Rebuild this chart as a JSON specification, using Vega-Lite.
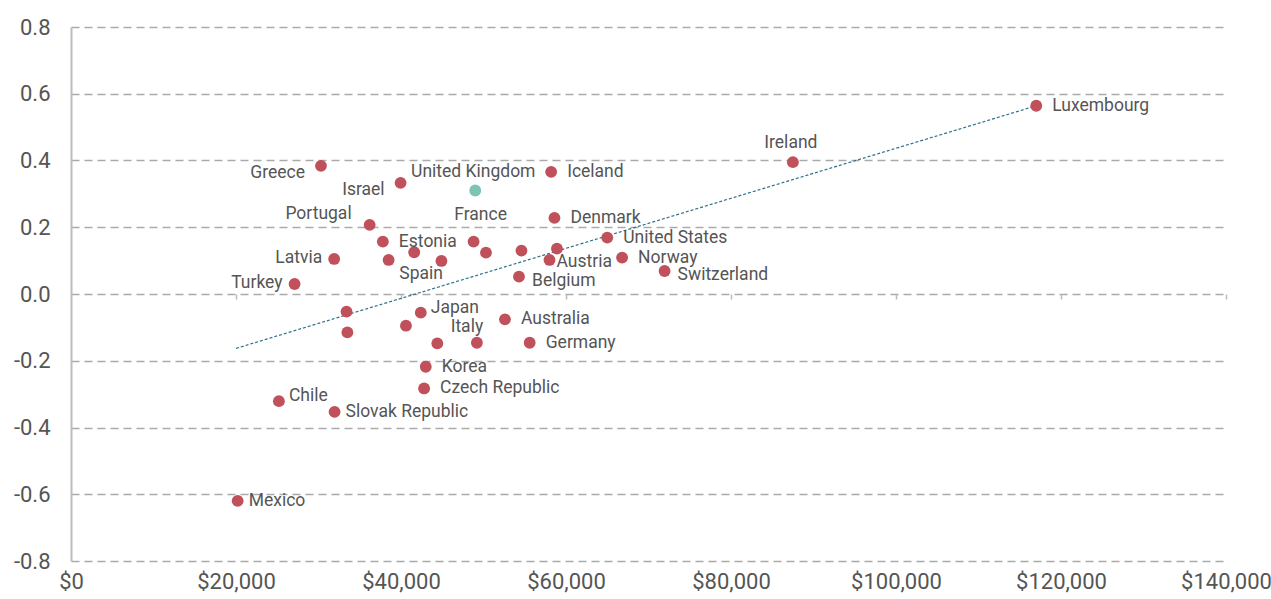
{
  "$schema": "https://vega.github.io/schema/vega-lite/v6.json",
  "width": 1155,
  "height": 534,
  "autosize": {"type": "none"},
  "padding": {"left": 71, "top": 27, "right": 45, "bottom": 38},
  "background": "white",
  "config": {
    "view": {"stroke": null},
    "font": "Roboto",
    "axis": {"labelFont": "Roboto", "labelColor": "#555555", "labelFontSize": 22}
  },
  "datasets": {
    "points": [
      {"country": "Luxembourg", "gdp": 117000, "value": 0.564, "labelPos": "right", "group": "other"},
      {"country": "Ireland", "gdp": 87500, "value": 0.395, "labelPos": "above", "group": "other"},
      {"country": "Greece", "gdp": 30300, "value": 0.384, "labelPos": "leftBelow", "group": "other"},
      {"country": "Israel", "gdp": 39950, "value": 0.333, "labelPos": "leftBelow", "group": "other"},
      {"country": "United Kingdom", "gdp": 49000, "value": 0.310, "labelPos": "above", "group": "uk"},
      {"country": "Iceland", "gdp": 58200, "value": 0.366, "labelPos": "right", "group": "other"},
      {"country": "Portugal", "gdp": 36200, "value": 0.207, "labelPos": "leftAbove", "group": "other"},
      {"country": "Denmark", "gdp": 58600, "value": 0.228, "labelPos": "right", "group": "other"},
      {"country": "Estonia", "gdp": 37800, "value": 0.157, "labelPos": "right", "group": "other"},
      {"country": "France", "gdp": 48800, "value": 0.157, "labelPos": "aboveFar", "group": "other"},
      {"country": "Canada", "gdp": 50300, "value": 0.124, "labelPos": "none", "group": "other"},
      {"country": "Sweden", "gdp": 54600, "value": 0.130, "labelPos": "none", "group": "other"},
      {"country": "Netherlands", "gdp": 58900, "value": 0.136, "labelPos": "none", "group": "other"},
      {"country": "Austria", "gdp": 58000, "value": 0.102, "labelPos": "rightBelow", "group": "other"},
      {"country": "Belgium", "gdp": 54300, "value": 0.052, "labelPos": "rightLow", "group": "other"},
      {"country": "United States", "gdp": 65000, "value": 0.169, "labelPos": "right", "group": "other"},
      {"country": "Norway", "gdp": 66800, "value": 0.109, "labelPos": "right", "group": "other"},
      {"country": "Switzerland", "gdp": 71950, "value": 0.069, "labelPos": "rightLow", "group": "other"},
      {"country": "Latvia", "gdp": 31900, "value": 0.105, "labelPos": "left", "group": "other"},
      {"country": "Lithuania", "gdp": 38500, "value": 0.102, "labelPos": "none", "group": "other"},
      {"country": "Spain", "gdp": 41600, "value": 0.125, "labelPos": "below", "group": "other"},
      {"country": "New Zealand", "gdp": 44900, "value": 0.099, "labelPos": "none", "group": "other"},
      {"country": "Turkey", "gdp": 27100, "value": 0.030, "labelPos": "left", "group": "other"},
      {"country": "Poland", "gdp": 33400, "value": -0.053, "labelPos": "none", "group": "other"},
      {"country": "Hungary", "gdp": 33500, "value": -0.115, "labelPos": "none", "group": "other"},
      {"country": "Slovenia", "gdp": 40600, "value": -0.095, "labelPos": "none", "group": "other"},
      {"country": "Japan", "gdp": 42400, "value": -0.056, "labelPos": "rightAbove", "group": "other"},
      {"country": "Australia", "gdp": 52600, "value": -0.076, "labelPos": "right", "group": "other"},
      {"country": "Finland", "gdp": 44400, "value": -0.148, "labelPos": "none", "group": "other"},
      {"country": "Italy", "gdp": 49200, "value": -0.146, "labelPos": "aboveLeft", "group": "other"},
      {"country": "Germany", "gdp": 55600, "value": -0.146, "labelPos": "right", "group": "other"},
      {"country": "Korea", "gdp": 43000, "value": -0.218, "labelPos": "right", "group": "other"},
      {"country": "Czech Republic", "gdp": 42800, "value": -0.283, "labelPos": "right", "group": "other"},
      {"country": "Chile", "gdp": 25200, "value": -0.321, "labelPos": "rightAbove", "group": "other"},
      {"country": "Slovak Republic", "gdp": 31950, "value": -0.353, "labelPos": "rightNear", "group": "other"},
      {"country": "Mexico", "gdp": 20200, "value": -0.620, "labelPos": "rightNear", "group": "other"}
    ],
    "trend": [
      {"gdp": 20000, "value": -0.163},
      {"gdp": 117000, "value": 0.564}
    ]
  },
  "resolve": {"axis": {"x": "independent"}},
  "layer": [
    {
      "data": {"name": "trend"},
      "mark": {"type": "rule", "color": "#bbbbbb", "strokeWidth": 2},
      "encoding": {
        "y": {"datum": 0, "type": "quantitative"},
        "x": {
          "field": "gdp", "type": "quantitative",
          "scale": {"domain": [0, 140000], "nice": false},
          "axis": {"orient": "bottom", "offset": -267, "domain": false, "ticks": true, "tickSize": 5, "tickWidth": 1.5, "tickColor": "#bbbbbb", "labels": false, "grid": false, "title": null, "values": [20000, 40000, 60000, 80000, 100000, 120000, 140000]}
        }
      }
    },
    {
      "data": {"name": "trend"},
      "mark": {"type": "line", "color": "#2f6f8c", "strokeWidth": 1.2, "strokeDash": [3, 2]},
      "encoding": {
        "x": {
          "field": "gdp", "type": "quantitative",
          "scale": {"domain": [0, 140000], "nice": false},
          "axis": {"orient": "bottom", "domain": false, "ticks": false, "grid": false, "title": null, "labelFlush": false, "labelBound": false, "labelOverlap": false, "labelPadding": 10, "labelFontSize": 22, "labelFont": "Roboto", "labelColor": "#555555", "format": "$,.0f", "values": [0, 20000, 40000, 60000, 80000, 100000, 120000, 140000]}
        },
        "y": {
          "field": "value", "type": "quantitative",
          "scale": {"domain": [-0.8, 0.8], "nice": false},
          "axis": {"title": null, "values": [-0.8, -0.6, -0.4, -0.2, 0, 0.2, 0.4, 0.6, 0.8], "labelExpr": "replace(format(datum.value, '.1f'), '\u2212', '-')", "labelFlush": false, "labelOverlap": false, "labelPadding": 21, "labelFontSize": 22, "labelFont": "Roboto", "labelColor": "#555555", "ticks": false, "domain": true, "domainColor": "#bbbbbb", "domainWidth": 2, "grid": true, "gridColor": "#aaaaaa", "gridWidth": 1.5, "gridDash": [8, 5]}
        }
      }
    },
    {
      "data": {"name": "points"},
      "mark": {"type": "circle", "opacity": 1, "size": 140},
      "encoding": {
        "x": {"field": "gdp", "type": "quantitative", "axis": null},
        "y": {"field": "value", "type": "quantitative"},
        "color": {"field": "group", "type": "nominal", "scale": {"domain": ["other", "uk"], "range": ["#c0505a", "#7cc4b4"]}, "legend": null}
      }
    },
    {
      "data": {"name": "points"},
      "transform": [{"filter": "datum.labelPos === 'right'"}],
      "mark": {"type": "text", "align": "left", "baseline": "middle", "dx": 16, "fontSize": 17.5, "color": "#555555", "font": "Roboto"},
      "encoding": {"x": {"field": "gdp", "type": "quantitative", "axis": null}, "y": {"field": "value", "type": "quantitative"}, "text": {"field": "country"}}
    },
    {
      "data": {"name": "points"},
      "transform": [{"filter": "datum.labelPos === 'rightNear'"}],
      "mark": {"type": "text", "align": "left", "baseline": "middle", "dx": 11, "fontSize": 17.5, "color": "#555555", "font": "Roboto"},
      "encoding": {"x": {"field": "gdp", "type": "quantitative", "axis": null}, "y": {"field": "value", "type": "quantitative"}, "text": {"field": "country"}}
    },
    {
      "data": {"name": "points"},
      "transform": [{"filter": "datum.labelPos === 'rightLow'"}],
      "mark": {"type": "text", "align": "left", "baseline": "middle", "dx": 13, "dy": 4, "fontSize": 17.5, "color": "#555555", "font": "Roboto"},
      "encoding": {"x": {"field": "gdp", "type": "quantitative", "axis": null}, "y": {"field": "value", "type": "quantitative"}, "text": {"field": "country"}}
    },
    {
      "data": {"name": "points"},
      "transform": [{"filter": "datum.labelPos === 'rightBelow'"}],
      "mark": {"type": "text", "align": "left", "baseline": "middle", "dx": 7, "dy": 2, "fontSize": 17.5, "color": "#555555", "font": "Roboto"},
      "encoding": {"x": {"field": "gdp", "type": "quantitative", "axis": null}, "y": {"field": "value", "type": "quantitative"}, "text": {"field": "country"}}
    },
    {
      "data": {"name": "points"},
      "transform": [{"filter": "datum.labelPos === 'rightAbove'"}],
      "mark": {"type": "text", "align": "left", "baseline": "middle", "dx": 10, "dy": -5, "fontSize": 17.5, "color": "#555555", "font": "Roboto"},
      "encoding": {"x": {"field": "gdp", "type": "quantitative", "axis": null}, "y": {"field": "value", "type": "quantitative"}, "text": {"field": "country"}}
    },
    {
      "data": {"name": "points"},
      "transform": [{"filter": "datum.labelPos === 'left'"}],
      "mark": {"type": "text", "align": "right", "baseline": "middle", "dx": -12, "dy": -1, "fontSize": 17.5, "color": "#555555", "font": "Roboto"},
      "encoding": {"x": {"field": "gdp", "type": "quantitative", "axis": null}, "y": {"field": "value", "type": "quantitative"}, "text": {"field": "country"}}
    },
    {
      "data": {"name": "points"},
      "transform": [{"filter": "datum.labelPos === 'leftBelow'"}],
      "mark": {"type": "text", "align": "right", "baseline": "middle", "dx": -16, "dy": 7, "fontSize": 17.5, "color": "#555555", "font": "Roboto"},
      "encoding": {"x": {"field": "gdp", "type": "quantitative", "axis": null}, "y": {"field": "value", "type": "quantitative"}, "text": {"field": "country"}}
    },
    {
      "data": {"name": "points"},
      "transform": [{"filter": "datum.labelPos === 'leftAbove'"}],
      "mark": {"type": "text", "align": "right", "baseline": "middle", "dx": -18, "dy": -11, "fontSize": 17.5, "color": "#555555", "font": "Roboto"},
      "encoding": {"x": {"field": "gdp", "type": "quantitative", "axis": null}, "y": {"field": "value", "type": "quantitative"}, "text": {"field": "country"}}
    },
    {
      "data": {"name": "points"},
      "transform": [{"filter": "datum.labelPos === 'above'"}],
      "mark": {"type": "text", "align": "center", "baseline": "middle", "dx": -2, "dy": -19, "fontSize": 17.5, "color": "#555555", "font": "Roboto"},
      "encoding": {"x": {"field": "gdp", "type": "quantitative", "axis": null}, "y": {"field": "value", "type": "quantitative"}, "text": {"field": "country"}}
    },
    {
      "data": {"name": "points"},
      "transform": [{"filter": "datum.labelPos === 'aboveFar'"}],
      "mark": {"type": "text", "align": "center", "baseline": "middle", "dx": 7, "dy": -27, "fontSize": 17.5, "color": "#555555", "font": "Roboto"},
      "encoding": {"x": {"field": "gdp", "type": "quantitative", "axis": null}, "y": {"field": "value", "type": "quantitative"}, "text": {"field": "country"}}
    },
    {
      "data": {"name": "points"},
      "transform": [{"filter": "datum.labelPos === 'aboveLeft'"}],
      "mark": {"type": "text", "align": "center", "baseline": "middle", "dx": -10, "dy": -16, "fontSize": 17.5, "color": "#555555", "font": "Roboto"},
      "encoding": {"x": {"field": "gdp", "type": "quantitative", "axis": null}, "y": {"field": "value", "type": "quantitative"}, "text": {"field": "country"}}
    },
    {
      "data": {"name": "points"},
      "transform": [{"filter": "datum.labelPos === 'below'"}],
      "mark": {"type": "text", "align": "center", "baseline": "middle", "dx": 7, "dy": 22, "fontSize": 17.5, "color": "#555555", "font": "Roboto"},
      "encoding": {"x": {"field": "gdp", "type": "quantitative", "axis": null}, "y": {"field": "value", "type": "quantitative"}, "text": {"field": "country"}}
    }
  ]
}
